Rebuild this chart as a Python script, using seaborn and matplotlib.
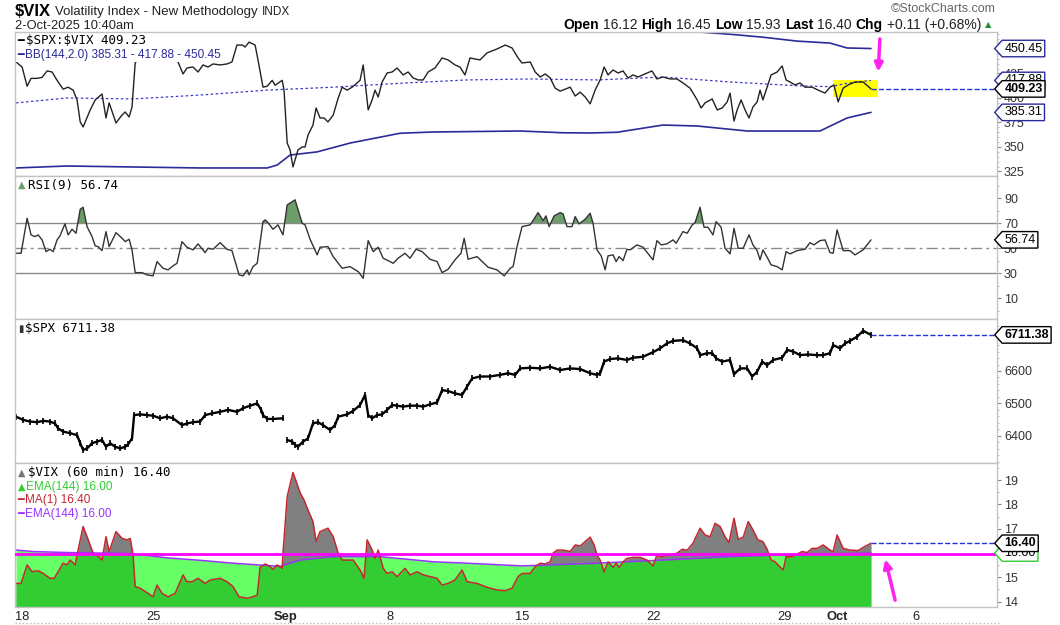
import numpy as np
import matplotlib.pyplot as plt
import seaborn as sns
from matplotlib.path import Path
from matplotlib.patches import Rectangle
from matplotlib.lines import Line2D

# x = trading days since Mon 18-Aug-2025 (60 min bars, sampled off the chart)
ratio_t = [-0.23, 0.00, 0.19, 0.34, 0.57, 0.76, 0.95, 1.14, 1.33, 1.56,
           1.75, 1.94, 2.09, 2.21, 2.32, 2.59, 2.78, 3.04, 3.19, 3.31,
           3.57, 3.80, 3.92, 4.07, 4.18, 4.30, 4.68, 5.25, 5.70, 5.93,
           6.12, 6.27, 6.50, 6.69, 6.88, 7.07, 7.26, 7.53, 7.79, 7.98,
           8.17, 8.37, 8.48, 8.63, 8.86, 8.97, 9.16, 9.32, 9.51, 9.62,
           9.89, 9.96, 10.08, 10.19, 10.30, 10.49, 10.65, 10.76, 10.87, 11.06,
           11.18, 11.33, 11.48, 11.63, 11.83, 12.02, 12.17, 12.36, 12.55, 12.85,
           12.97, 13.16, 13.31, 13.42, 13.54, 13.69, 13.88, 14.07, 14.26, 14.49,
           14.68, 14.87, 15.06, 15.25, 15.44, 15.70, 15.97, 16.20, 16.46, 16.65,
           16.84, 17.03, 17.41, 17.68, 18.06, 18.37, 18.63, 18.86, 19.01, 19.32,
           19.51, 19.70, 19.89, 20.08, 20.27, 20.46, 20.65, 20.84, 21.03, 21.22,
           21.41, 21.60, 21.79, 21.98, 22.13, 22.28, 22.47, 22.66, 22.85, 23.04,
           23.23, 23.42, 23.69, 23.95, 24.14, 24.37, 24.64, 24.90, 25.13, 25.40,
           25.67, 25.82, 25.97, 26.24, 26.43, 26.62, 26.81, 26.92, 27.07, 27.19,
           27.34, 27.49, 27.64, 27.79, 27.95, 28.06, 28.17, 28.33, 28.48, 28.71,
           28.90, 29.05, 29.20, 29.39, 29.58, 29.77, 30.04, 30.27, 30.53, 30.72,
           30.87, 31.03, 31.22, 31.41, 31.67, 31.98, 32.28]
ratio = [436.7, 431.6, 412, 420, 420, 421, 427.6, 426.5, 418, 409,
         411, 408, 398, 375.5, 370.4, 387.8, 398, 404, 379.6, 395,
         374.5, 382.6, 385.7, 380.6, 390.8, 435.7, 450, 448, 444, 436.7,
         424.5, 430.6, 431.6, 426.5, 433.7, 431.6, 434.7, 433.7, 434.7, 436.7,
         454, 454, 452, 457, 454, 438.8, 411, 412, 418, 413,
         418, 408, 354, 347, 329.6, 347, 350, 350, 362, 372.4,
         389.8, 379.6, 379.6, 375.5, 382.6, 400, 411, 408, 411, 418,
         433.7, 387.8, 398, 408, 401, 416.3, 425.5, 426.5, 430.6, 423.5,
         426.5, 420.4, 418.4, 418.4, 426.5, 430.6, 440.8, 438.8, 433.7, 431.6,
         423.5, 440.8, 438.8, 446, 450, 454, 451, 440.8, 435.7, 436.7,
         426.5, 421.4, 424.5, 420.4, 410, 407, 409, 411, 402, 406,
         401, 394, 408, 418.4, 431.6, 423.5, 428.6, 425.5, 427.6, 420.4,
         423.5, 421.4, 424.5, 427.6, 419.4, 421.4, 419.4, 419.4, 415.3, 410,
         398, 389.8, 395, 399, 387.8, 389.8, 396, 405, 376.5, 387.8,
         398, 387.8, 379.6, 390.8, 396, 408, 398, 411, 423.5, 426.5,
         432.7, 418.4, 416.3, 413.3, 415.3, 411, 411, 408, 405, 411,
         413.3, 396, 410, 413.3, 416.3, 416.3, 409.23]

bb_upper_t = [24.5, 25.89, 26.92, 28.17, 29.47, 30.72, 31.37, 32.28]
bb_upper = [469.5, 467, 465, 462, 458, 456, 451, 450.45]
bb_mid_t = [-0.23, 1.71, 4.22, 6.77, 9.32, 11.83, 14.37, 16.92, 19.32, 21.86,
            24.37, 26.92, 29.47, 30.72, 31.37, 32.28]
bb_mid = [395, 400, 399, 403, 408, 411, 415, 418.4, 419.4, 418.4,
          421.4, 416.3, 412.5, 411.5, 415, 417.88]
bb_lower_t = [-0.23, 1.71, 4.22, 6.77, 9.32, 9.70, 10.19, 11.22, 12.47, 14.37,
              15.63, 18.94, 20.57, 21.60, 22.62, 24.37, 25.67, 27.57, 30.34, 31.37, 32.28]
bb_lower = [328.6, 330.6, 329.6, 328.6, 328.6, 331.6, 341.8, 345, 354, 364,
            365.3, 366.3, 364.5, 364.3, 365, 372.4, 371.4, 366.3, 366.3, 379.6, 385.31]

rsi_t = [-0.23, -0.04, 0.19, 0.34, 0.49, 0.61, 0.76, 0.91, 1.06, 1.18,
         1.33, 1.44, 1.63, 1.75, 1.90, 2.05, 2.21, 2.32, 2.47, 2.66,
         2.78, 2.89, 3.04, 3.19, 3.31, 3.57, 3.80, 3.92, 4.07, 4.18,
         4.30, 4.56, 4.75, 4.98, 5.13, 5.36, 5.55, 5.74, 5.89, 6.08,
         6.27, 6.50, 6.69, 6.96, 7.07, 7.26, 7.53, 7.79, 7.98, 8.25,
         8.40, 8.56, 8.63, 8.78, 8.94, 9.16, 9.24, 9.35, 9.54, 9.73,
         9.92, 10.08, 10.38, 10.65, 10.76, 10.95, 11.22, 11.33, 11.63, 11.83,
         12.17, 12.47, 12.78, 12.97, 13.16, 13.35, 13.54, 13.73, 13.92, 14.11,
         14.30, 14.56, 14.75, 14.98, 15.21, 15.51, 15.78, 15.97, 16.20, 16.46,
         16.69, 16.81, 16.96, 17.30, 17.72, 18.06, 18.33, 18.56, 18.67, 18.82,
         19.01, 19.32, 19.62, 19.81, 19.92, 20.04, 20.23, 20.46, 20.57, 20.72,
         20.91, 21.03, 21.18, 21.41, 21.60, 21.71, 21.86, 22.02, 22.17, 22.28,
         22.47, 22.59, 22.70, 22.85, 23.00, 23.12, 23.38, 23.61, 23.99, 24.14,
         24.30, 24.52, 24.75, 24.87, 25.13, 25.29, 25.48, 25.59, 25.78, 25.93,
         26.08, 26.27, 26.39, 26.58, 26.73, 26.92, 27.07, 27.23, 27.42, 27.64,
         27.79, 27.95, 28.06, 28.17, 28.33, 28.48, 28.71, 28.90, 29.05, 29.20,
         29.47, 29.77, 29.96, 30.11, 30.34, 30.53, 30.72, 30.84, 30.99, 31.22,
         31.48, 31.67, 31.98, 32.28]
rsi = [46, 46, 74, 60.7, 59.3, 60.7, 56.7, 47.3, 49.2, 47.3,
       56.7, 59.9, 69.5, 60.7, 65.2, 62, 81.2, 82.8, 67.3, 59.3,
       51.9, 51.3, 48.1, 63.3, 51.3, 62.5, 58, 55.3, 57.2, 48.7,
       30.5, 30.5, 28.7, 27.9, 39.3, 34, 32.7, 35.9, 38, 55.3,
       50.8, 48.7, 53.5, 46.5, 50, 49.2, 54.5, 49.2, 48.1, 28.7,
       27.9, 32.7, 28.7, 35.3, 38, 71.3, 72.7, 70.5, 65.2, 68.7,
       60.7, 84.7, 88.7, 70, 68.7, 57.2, 44.7, 50.8, 51.3, 43.3,
       34, 35.3, 31.3, 26, 56.1, 47.3, 50.8, 42, 40.1, 38,
       42, 46, 42, 49.2, 47.3, 41.2, 39.3, 30.5, 33.2, 40.7,
       46, 58, 41.2, 43.3, 34.8, 32.7, 27.9, 34, 35.3, 51.3,
       67.3, 68.7, 78.5, 72.1, 75.9, 67.3, 75.9, 78.5, 77.5, 67.3,
       67.3, 75.3, 69.5, 73.2, 78, 70, 48.7, 43.9, 32.7, 43.9,
       44.7, 39.3, 43.3, 40.1, 49.2, 48.7, 52.7, 50.8, 40.7, 56.1,
       52.7, 53.5, 56.7, 54, 63.3, 62, 68.7, 70.5, 82.8, 66.8,
       66.8, 60.7, 71.3, 66.8, 50, 45.5, 66, 50, 50, 60.7,
       52.7, 48.1, 40.7, 48.7, 42.8, 36.7, 35.3, 32.7, 47.3, 45.5,
       48.1, 49.2, 54.5, 52.7, 56.1, 56.7, 46.5, 46, 64.7, 48.1,
       48.1, 44.7, 48.7, 56.74]

spx_t = [-0.23, 0.04, 0.30, 0.57, 0.80, 1.06, 1.25, 1.37, 1.56, 1.83,
         2.09, 2.21, 2.32, 2.47, 2.66, 2.85, 3.04, 3.19, 3.35, 3.54,
         3.73, 3.92, 4.03, 4.18, 4.26, 4.49, 4.75, 4.98, 5.25, 5.51,
         5.74, 6.08, 6.27, 6.50, 6.77, 6.96, 7.22, 7.53, 7.83, 8.17,
         8.40, 8.67, 8.94, 9.09, 9.16, 9.32, 9.54, 9.92,
         10.08, 10.27, 10.38, 10.49, 10.68, 10.87, 11.06, 11.25, 11.44, 11.71,
         11.90, 12.02, 12.36, 12.59, 12.85, 13.04, 13.16, 13.31, 13.50, 13.69,
         13.88, 14.07, 14.26, 14.49, 14.75, 15.02, 15.25, 15.51, 15.78, 15.97,
         16.20, 16.46, 16.73, 16.92, 17.11, 17.41, 17.79, 18.17, 18.48, 18.75,
         18.94, 19.32, 19.70, 20.08, 20.46, 20.84, 21.22, 21.60, 21.86, 21.98,
         22.13, 22.36, 22.66, 23.00, 23.23, 23.61, 23.99, 24.26, 24.52, 24.75,
         25.13, 25.40, 25.67, 25.78, 26.05, 26.24, 26.39, 26.62, 26.92, 27.07,
         27.30, 27.57, 27.76, 27.95, 28.14, 28.33, 28.56, 28.90, 29.09, 29.32,
         29.58, 29.89, 30.23, 30.46, 30.72, 30.84, 31.10, 31.29, 31.48, 31.75,
         31.98, 32.28]
spx = [6459, 6449, 6444, 6442, 6446, 6444, 6438, 6423, 6413, 6408,
       6402, 6377, 6356, 6361, 6377, 6382, 6387, 6366, 6377, 6366,
       6361, 6366, 6374, 6392, 6464, 6466, 6464, 6462, 6454, 6459,
       6454, 6433, 6438, 6442, 6444, 6464, 6469, 6474, 6480, 6474,
       6485, 6493, 6500, 6480, 6464, 6452, 6452, 6454,
       6387, 6382, 6372, 6366, 6382, 6392, 6438, 6442, 6433, 6418,
       6433, 6459, 6466, 6477, 6495, 6526, 6464, 6454, 6464, 6466,
       6480, 6495, 6493, 6490, 6493, 6493, 6490, 6497, 6503, 6541,
       6538, 6531, 6526, 6552, 6577, 6583, 6583, 6588, 6593, 6588,
       6608, 6610, 6608, 6613, 6603, 6608, 6606, 6593, 6588, 6593,
       6629, 6637, 6639, 6634, 6641, 6644, 6658, 6670, 6685, 6693,
       6695, 6685, 6670, 6649, 6655, 6655, 6639, 6629, 6634, 6590,
       6608, 6608, 6583, 6598, 6629, 6618, 6634, 6641, 6665, 6660,
       6649, 6651, 6649, 6649, 6655, 6680, 6670, 6685, 6693, 6706,
       6724, 6711.38]
spx_gap_day = 10  # Labor Day gap (2-Sep open)

vix_t = [-0.23, -0.04, 0.19, 0.38, 0.61, 0.80, 1.06, 1.22, 1.37, 1.56,
         1.71, 1.83, 2.02, 2.09, 2.32, 2.47, 2.70, 2.85, 3.04, 3.19,
         3.31, 3.57, 3.80, 3.99, 4.11, 4.22, 4.30, 4.49, 4.75, 4.98,
         5.13, 5.32, 5.55, 5.82, 6.12, 6.27, 6.46, 6.69, 6.96, 7.15,
         7.53, 7.79, 8.02, 8.25, 8.56, 8.78, 8.94, 9.05, 9.24, 9.39,
         9.54, 9.70, 9.89, 9.92, 10.08, 10.30, 10.57, 10.72, 10.87, 11.06,
         11.18, 11.33, 11.63, 11.83, 12.02, 12.17, 12.36, 12.59, 12.85, 13.00,
         13.12, 13.31, 13.42, 13.54, 13.73, 13.88, 14.07, 14.26, 14.56, 14.75,
         15.02, 15.25, 15.51, 15.78, 15.97, 16.20, 16.46, 16.73, 16.92, 17.30,
         17.68, 18.06, 18.37, 18.63, 18.86, 19.01, 19.32, 19.51, 19.70, 19.89,
         20.08, 20.19, 20.34, 20.57, 20.84, 21.03, 21.22, 21.41, 21.60, 21.75,
         21.86, 21.98, 22.13, 22.28, 22.47, 22.59, 22.70, 22.85, 23.00, 23.23,
         23.50, 23.76, 23.99, 24.14, 24.33, 24.64, 24.90, 25.10, 25.29, 25.51,
         25.78, 25.97, 26.16, 26.35, 26.54, 26.73, 26.88, 27.07, 27.23, 27.42,
         27.61, 27.79, 27.98, 28.17, 28.33, 28.48, 28.63, 28.78, 28.94, 29.05,
         29.28, 29.47, 29.66, 29.85, 30.04, 30.23, 30.46, 30.72, 30.84, 30.99,
         31.22, 31.48, 31.79, 31.98, 32.28]
vix = [14.75, 14.75, 15.51, 15.23, 15.27, 15.16, 14.96, 14.96, 15.23, 15.58,
       15.51, 15.71, 15.51, 15.92, 17.09, 16.67, 15.99, 15.92, 15.71, 16.67,
       16.06, 16.88, 16.60, 16.54, 16.60, 15.92, 14.62, 14.55, 14.37, 14.20,
       14.68, 14.34, 14.20, 14.34, 15.10, 14.82, 14.82, 14.96, 14.75, 14.89,
       14.96, 14.82, 14.62, 14.20, 14.14, 14.20, 14.27, 15.41, 15.55, 15.47,
       15.33, 15.51, 15.37, 15.99, 18.32, 19.31, 18.48, 18.18, 17.77, 17.29,
       16.47, 16.88, 17.02, 16.67, 15.99, 15.71, 15.71, 15.71, 15.30, 14.96,
       16.54, 16.12, 15.78, 16.12, 15.37, 15.16, 15.23, 15.03, 15.37, 15.10,
       15.23, 15.10, 15.03, 14.96, 14.68, 14.75, 14.89, 15.30, 14.82, 14.75,
       14.59, 14.48, 14.45, 14.55, 15.03, 15.16, 15.16, 15.44, 15.58, 15.55,
       15.64, 15.99, 16.12, 16.12, 16.06, 16.33, 16.29, 16.47, 16.65, 16.33,
       15.92, 15.71, 15.23, 15.64, 15.41, 15.58, 15.41, 15.64, 15.78, 15.82,
       15.82, 15.71, 15.47, 15.92, 15.85, 15.92, 15.99, 16.15, 16.12, 16.40,
       17.02, 16.74, 16.67, 17.22, 17.09, 16.67, 16.43, 17.43, 16.56, 16.65,
       17.29, 16.95, 16.54, 16.47, 16.15, 15.71, 15.64, 15.47, 15.30, 15.85,
       15.85, 15.96, 16.06, 16.02, 16.19, 16.19, 16.33, 16.12, 16.06, 16.74,
       16.19, 16.12, 16.10, 16.23, 16.40]
ema_t = [-0.23, 0.42, 1.71, 3.35, 4.22, 5.51, 6.77, 8.02, 9.81, 10.57,
         11.83, 13.61, 15.63, 16.92, 19.01, 21.86, 24.37, 26.92, 28.83, 32.28]
ema = [16.12, 16.06, 16.02, 15.99, 15.97, 15.80, 15.70, 15.58, 15.45, 15.71,
       15.85, 15.85, 15.64, 15.58, 15.47, 15.58, 15.71, 15.85, 15.92, 16.00]
hline_level = 15.97  # hand drawn magenta line

day_ticks = [0, 5, 10, 14, 19, 24, 29, 31, 34]
day_labels = ['18', '25', 'Sep', '8', '15', '22', '29', 'Oct', '6']

# annotations drawn on the chart (yellow box, pink arrows)
highlight = (30.84, 32.54, 401, 418.4)

sns.set_theme(style='white')
plt.rcParams['font.family'] = ['Liberation Sans', 'DejaVu Sans']
plt.rcParams['text.parse_math'] = False

W_PX, H_PX = 1060, 625
XMIN, XMAX = -0.27, 37.07
fig = plt.figure(figsize=(W_PX / 100, H_PX / 100), dpi=100, facecolor='white')
renderer = fig.canvas.get_renderer()


def rect(top, bottom):
    return [15 / W_PX, 1 - bottom / H_PX, 982 / W_PX, (bottom - top) / H_PX]


ax1 = fig.add_axes(rect(32, 176))
ax2 = fig.add_axes(rect(176, 319))
ax3 = fig.add_axes(rect(319, 463))
ax4 = fig.add_axes(rect(463, 607))


def style_ax(ax, ylim, yticks, minor):
    ax.set_xlim(XMIN, XMAX)
    ax.set_ylim(*ylim)
    ax.yaxis.tick_right()
    ax.set_yticks(yticks)
    ax.set_yticks(minor, minor=True)
    ax.tick_params(axis='y', which='major', right=True, left=False, length=3,
                   width=0.8, color='#888888', labelsize=9, labelcolor='#333333', pad=2)
    ax.tick_params(axis='y', which='minor', right=True, left=False, length=1.5,
                   width=0.6, color='#aaaaaa')
    ax.tick_params(axis='x', length=0, labelbottom=False)
    ax.set_xlabel('')
    ax.set_ylabel('')
    for s in ax.spines.values():
        s.set_color('#c4c4c4')
        s.set_linewidth(1)


def tag_box(x0, y0, width, height, mutation_size):
    pad = 0.18 * mutation_size
    x0, y0 = x0 - pad, y0 - pad
    width, height = width + 2 * pad, height + 2 * pad
    tip = 0.45 * height
    verts = [(x0, y0), (x0 + width, y0), (x0 + width, y0 + height),
             (x0, y0 + height), (x0 - tip, y0 + height / 2), (x0, y0), (x0, y0)]
    codes = [Path.MOVETO] + [Path.LINETO] * 5 + [Path.CLOSEPOLY]
    return Path(verts, codes)


def tag(ax, value, edge, bold=False):
    ax.text(1.0075, value, f'{value:.2f}', transform=ax.get_yaxis_transform(),
            ha='left', va='center', fontsize=9, color='black',
            fontweight='bold' if bold else 'normal', zorder=6, clip_on=False,
            bbox=dict(boxstyle=tag_box, fc='white', ec=edge, lw=1))


def write_run(x_px, y_px, pieces, gap=4):
    x = x_px
    for text, color, size, weight, family in pieces:
        t = fig.text(x / W_PX, 1 - y_px / H_PX, text, color=color, fontsize=size,
                     fontweight=weight, family=family, ha='left', va='center', zorder=4)
        x += t.get_window_extent(renderer).width + gap
    return x


MONO = ['DejaVu Sans Mono']
SANS = ['Liberation Sans', 'DejaVu Sans']
NAVY = '#2b2b99'

# ---- panel 1: $SPX:$VIX with Bollinger Bands ----
ax1.fill_between(highlight[:2], highlight[2], highlight[3], color='#ffff00', lw=0, zorder=1)
sns.lineplot(x=bb_upper_t, y=bb_upper, ax=ax1, color=NAVY, linewidth=1.2, estimator=None)
sns.lineplot(x=bb_lower_t, y=bb_lower, ax=ax1, color=NAVY, linewidth=1.2, estimator=None)
sns.lineplot(x=bb_mid_t, y=bb_mid, ax=ax1, color='#3a3acc', linewidth=0.9,
             linestyle=(0, (2, 2)), estimator=None)
sns.lineplot(x=ratio_t, y=ratio, ax=ax1, color='#222222', linewidth=1.0, estimator=None)
ax1.hlines(ratio[-1], ratio_t[-1], XMAX, colors='#2233dd', linestyles='--', lw=1, zorder=3)
ax1.annotate('', xy=(32.55, 424), xytext=(32.62, 463),
             arrowprops=dict(arrowstyle='-|>', color='#ff22ee', lw=2.5, mutation_scale=12))
style_ax(ax1, (320.4, 467.3), [325, 350, 375, 400, 425], np.arange(325, 466, 5))
tag(ax1, bb_upper[-1], NAVY)
tag(ax1, bb_mid[-1], NAVY)
tag(ax1, ratio[-1], 'black', bold=True)
tag(ax1, bb_lower[-1], NAVY)

# ---- panel 2: RSI(9) ----
rsi_arr = np.array(rsi)
ax2.fill_between(rsi_t, rsi_arr, 70, where=rsi_arr >= 70, interpolate=True,
                 color='#6b9e6b', lw=0, zorder=1)
for lvl, ls in [(70, '-'), (30, '-'), (50, (0, (8, 3, 2, 3)))]:
    ax2.axhline(lvl, color='#8a8a8a', lw=1, linestyle=ls, zorder=1.5)
sns.lineplot(x=rsi_t, y=rsi, ax=ax2, color='#333333', linewidth=1.0, estimator=None)
style_ax(ax2, (-6.6, 107.8), [10, 30, 50, 70, 90], np.arange(0, 101, 10))
tag(ax2, rsi[-1], 'black')

# ---- panel 3: $SPX ----
spx_t_arr, spx_arr = np.array(spx_t), np.array(spx)
for part in (spx_t_arr < spx_gap_day, spx_t_arr >= spx_gap_day):
    sns.lineplot(x=spx_t_arr[part], y=spx_arr[part], ax=ax3, color='black',
                 linewidth=1.7, marker='|', markersize=5, markeredgewidth=1.2,
                 markeredgecolor='black', estimator=None)
ax3.hlines(spx[-1], spx_t[-1], XMAX, colors='#2233dd', linestyles='--', lw=1, zorder=3)
style_ax(ax3, (6316, 6760.5), [6400, 6500, 6600], np.arange(6320, 6760, 20))
tag(ax3, spx[-1], 'black', bold=True)

# ---- panel 4: $VIX 60 min with EMA(144) ----
style_ax(ax4, (13.78, 19.70), [14, 15, 16, 17, 18, 19], np.arange(14, 19.6, 0.5))
floor = ax4.get_ylim()[0]
ax4.fill_between(vix_t, vix, floor, color='#808080', lw=0, zorder=1)
ema_area = ax4.fill_between(ema_t, ema, floor, color='#66ff66', lw=0, zorder=1.1)
dark = ax4.fill_between(vix_t, vix, floor, color='#33cc33', lw=0, zorder=1.2)
dark.set_clip_path(ema_area.get_paths()[0], ax4.transData)
dark.set_clip_box(ax4.bbox)
sns.lineplot(x=ema_t, y=ema, ax=ax4, color='#9933ff', linewidth=1.1, estimator=None)
sns.lineplot(x=vix_t, y=vix, ax=ax4, color='#c4282f', linewidth=1.1, estimator=None)
ax4.axhline(hline_level, color='#ff00ff', lw=2, zorder=4)
ax4.hlines(vix[-1], vix_t[-1], XMAX, colors='#2233dd', linestyles='--', lw=1, zorder=3)
ax4.annotate('', xy=(32.8, 15.85), xytext=(33.22, 13.95),
             arrowprops=dict(arrowstyle='-|>', color='#ff22ee', lw=2.5, mutation_scale=12))
ax4.set_ylim(13.78, 19.70)
tag(ax4, ema[-1], '#33cc33')
tag(ax4, vix[-1], 'black', bold=True)
ax4.set_xticks(day_ticks)
ax4.set_xticklabels(day_labels)
ax4.tick_params(axis='x', labelbottom=True, length=0, pad=3, labelsize=9.3, labelcolor='#222222')
for lab in ax4.get_xticklabels():
    if lab.get_text() in ('Sep', 'Oct'):
        lab.set_fontweight('bold')

# ---- header ----
write_run(15, 12, [('$VIX', 'black', 12, 'bold', SANS),
                   ('Volatility Index - New Methodology', '#222222', 9.5, 'normal', SANS),
                   ('INDX', '#222222', 8.5, 'normal', SANS)])
write_run(15, 26, [('2-Oct-2025 10:40am', '#222222', 9.3, 'normal', SANS)])
fig.text(996 / W_PX, 1 - 9 / H_PX, '©StockCharts.com', color='#666666', fontsize=9,
         ha='right', va='center')
write_run(563, 25, [('Open', 'black', 10, 'bold', SANS), ('16.12', '#222222', 10, 'normal', SANS),
                    ('High', 'black', 10, 'bold', SANS), ('16.45', '#222222', 10, 'normal', SANS),
                    ('Low', 'black', 10, 'bold', SANS), ('15.93', '#222222', 10, 'normal', SANS),
                    ('Last', 'black', 10, 'bold', SANS), ('16.40', '#222222', 10, 'normal', SANS),
                    ('Chg', 'black', 10, 'bold', SANS),
                    ('+0.11 (+0.68%)', '#222222', 10, 'normal', SANS),
                    ('▲', '#2e8b2e', 6, 'normal', ['DejaVu Sans'])])

# ---- panel legends ----
fig.add_artist(Rectangle((16 / W_PX, 1 - 48 / H_PX), 145 / W_PX, 13 / H_PX,
                         transform=fig.transFigure, fc='white', ec='none', zorder=1))
fig.add_artist(Rectangle((16 / W_PX, 1 - 62 / H_PX), 212 / W_PX, 14 / H_PX,
                         transform=fig.transFigure, fc='white', ec='none', zorder=1))
write_run(17, 41, [('━', 'black', 8, 'normal', ['DejaVu Sans']),
                   (f'$SPX:$VIX {ratio[-1]:.2f}', 'black', 9, 'normal', MONO)], gap=2)
write_run(17, 55, [('━', NAVY, 8, 'normal', ['DejaVu Sans']),
                   (f'BB(144,2.0) {bb_lower[-1]:.2f} - {bb_mid[-1]:.2f} - {bb_upper[-1]:.2f}',
                    NAVY, 8.5, 'normal', SANS)], gap=1)
write_run(18, 185, [('▲', '#6b9e6b', 7, 'normal', ['DejaVu Sans']),
                    (f'RSI(9) {rsi[-1]:.2f}', 'black', 9, 'normal', MONO)], gap=2)
write_run(18, 329, [('▮', '#333333', 7, 'normal', ['DejaVu Sans']),
                    (f'$SPX {spx[-1]:.2f}', 'black', 9, 'normal', MONO)], gap=2)
write_run(18, 473, [('▲', '#777777', 7, 'normal', ['DejaVu Sans']),
                    (f'$VIX (60 min) {vix[-1]:.2f}', 'black', 9, 'normal', MONO)], gap=2)
write_run(18, 487, [('▲', '#33cc33', 7, 'normal', ['DejaVu Sans']),
                    (f'EMA(144) {ema[-1]:.2f}', '#33cc33', 8.5, 'normal', SANS)], gap=1)
write_run(17, 500, [('━', '#c4282f', 8, 'normal', ['DejaVu Sans']),
                    (f'MA(1) {vix[-1]:.2f}', '#c4282f', 8.5, 'normal', SANS)], gap=1)
write_run(17, 514, [('━', '#9933ff', 8, 'normal', ['DejaVu Sans']),
                    (f'EMA(144) {ema[-1]:.2f}', '#9933ff', 8.5, 'normal', SANS)], gap=1)

fig.add_artist(Line2D([15 / W_PX, 1000 / W_PX], [1 - 623 / H_PX] * 2, transform=fig.transFigure,
                      color='#bbbbbb', lw=1, linestyle=':'))

fig.savefig('out.png', dpi=100, facecolor='white')
